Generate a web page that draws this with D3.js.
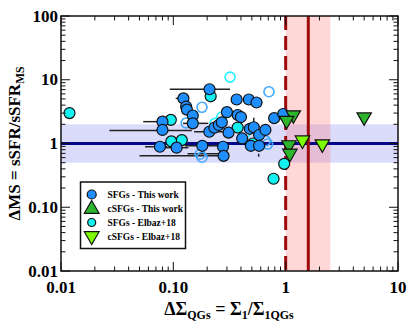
<!DOCTYPE html>
<html>
<head>
<meta charset="utf-8">
<script src="https://cdn.jsdelivr.net/npm/d3@7"></script>
<style>
  body { margin: 0; background: #fff; }
  text { font-family: "Liberation Serif", "Times New Roman", serif; font-weight: bold; }
</style>
</head>
<body>
<div id="chart"></div>
<script>
// data: [deltaSigma, deltaMS]
var sfgsThisWork = [
  [0.21, 7.1], [0.123, 5.1], [0.130, 3.8], [0.132, 3.4], [0.149, 2.75], [0.149, 2.07],
  [0.080, 2.2], [0.080, 1.63], [0.076, 0.89], [0.107, 0.86], [0.181, 0.92], [0.277, 0.89],
  [0.28, 0.64], [0.209, 1.53], [0.232, 1.77], [0.254, 1.95], [0.27, 2.15], [0.30, 3.1],
  [0.31, 1.48], [0.366, 4.9], [0.47, 4.9], [0.55, 4.4], [0.374, 2.8], [0.40, 2.6],
  [0.41, 1.2], [0.48, 1.7], [0.52, 1.8], [0.58, 1.36], [0.66, 1.63], [0.49, 0.92],
  [0.58, 0.92], [0.79, 2.5], [0.95, 2.9]
]
var sfgsElbaz = [
  [0.0119, 3.0], [0.215, 5.5], [0.095, 2.35], [0.096, 1.08], [0.119, 1.13],
  [0.374, 1.78], [0.51, 1.0], [0.78, 0.28], [0.97, 0.48]
]
var openCyan = [[0.32, 11], [0.235, 2.07], [0.27, 2.6], [0.435, 1.48]]
var openBlue = [[0.71, 6.5], [0.18, 3.7], [0.13, 2.1], [0.66, 1.1], [0.69, 0.98], [0.173, 0.68], [0.18, 0.61]]
var csfgsThisWork = [[1.17, 2.8], [1.02, 2.3], [5.0, 2.6], [1.07, 0.95], [1.09, 0.70]]
var csfgsElbaz = [[1.41, 1.13], [2.12, 0.98]]

// horizontal error bars: [deltaMS, xlo, xhi]
var xErrors = [
  [7.1, 0.093, 0.32], [5.1, 0.105, 0.137], [2.2, 0.054, 0.093], [1.6, 0.027, 0.146],
  [1.53, 0.153, 0.30], [0.89, 0.056, 0.088], [0.86, 0.081, 0.136], [0.92, 0.127, 0.25],
  [0.69, 0.134, 0.25], [0.64, 0.050, 0.30], [2.07, 0.122, 0.205], [4.4, 0.50, 0.62]
]
// vertical error bars: [deltaSigma, ylo, yhi]
var yErrors = [[0.52, 1.73, 2.54], [0.575, 0.62, 0.69]]

var msBand = [0.5, 2]
var msLine = 1
var sigmaThreshold = 1
var sigmaMedian = 1.59
var sigmaBand = [1, 2.5]

var xTicks = [0.01, 0.1, 1, 10]
var xTickLabels = ['0.01', '0.10', '1', '10']
var yTicks = [0.01, 0.1, 1, 10, 100]
var yTickLabels = ['0.01', '0.10', '1', '10', '100']

var legendItems = [
  { label: 'SFGs - This work', type: 'circle', color: '#1f8fff', r: 4.5 },
  { label: 'cSFGs - This work', type: 'up', color: '#2db52d' },
  { label: 'SFGs - Elbaz+18', type: 'circle', color: '#14f0f0', r: 4 },
  { label: 'cSFGs - Elbaz+18', type: 'down', color: '#7cfc00' }
]

var W = 415, H = 332
var pL = 61, pR = 398, pT = 16, pB = 271

var svg = d3.select('#chart').append('svg')
  .attr('width', W).attr('height', H)

var x = d3.scaleLog().domain([0.01, 10]).range([pL, pR])
var y = d3.scaleLog().domain([0.01, 100]).range([pB, pT])

// bands
svg.append('rect')
  .attr('x', pL).attr('width', pR - pL)
  .attr('y', y(msBand[1])).attr('height', y(msBand[0]) - y(msBand[1]))
  .attr('fill', 'rgba(110,110,240,0.25)')
svg.append('rect')
  .attr('x', x(sigmaBand[0])).attr('width', x(sigmaBand[1]) - x(sigmaBand[0]))
  .attr('y', pT).attr('height', pB - pT)
  .attr('fill', 'rgba(255,110,110,0.28)')

// main sequence line
svg.append('line')
  .attr('x1', pL).attr('x2', pR)
  .attr('y1', y(msLine)).attr('y2', y(msLine))
  .attr('stroke', '#06068a').attr('stroke-width', 3)

// red lines
svg.append('line')
  .attr('x1', x(sigmaThreshold)).attr('x2', x(sigmaThreshold))
  .attr('y1', pT).attr('y2', pB)
  .attr('stroke', '#9b0b0b').attr('stroke-width', 3)
  .attr('stroke-dasharray', '14,6')
svg.append('line')
  .attr('x1', x(sigmaMedian)).attr('x2', x(sigmaMedian))
  .attr('y1', pT).attr('y2', pB)
  .attr('stroke', '#9b0b0b').attr('stroke-width', 3)

// error bars
svg.selectAll('.xerr').data(xErrors).enter().append('line')
  .attr('class', 'xerr')
  .attr('x1', d => x(d[1])).attr('x2', d => x(d[2]))
  .attr('y1', d => y(d[0])).attr('y2', d => y(d[0]))
  .attr('stroke', '#222').attr('stroke-width', 1.5)
svg.selectAll('.yerr').data(yErrors).enter().append('line')
  .attr('class', 'yerr')
  .attr('x1', d => x(d[0])).attr('x2', d => x(d[0]))
  .attr('y1', d => y(d[1])).attr('y2', d => y(d[2]))
  .attr('stroke', '#222').attr('stroke-width', 1.5)

// open circles
function openCircles(data, color) {
  svg.append('g').selectAll('circle').data(data).enter().append('circle')
    .attr('cx', d => x(d[0])).attr('cy', d => y(d[1])).attr('r', 5)
    .attr('fill', 'none').attr('stroke', color).attr('stroke-width', 1.6)
}
openCircles(openCyan, '#22f2ff')
openCircles(openBlue, '#44aaff')

function filledCircles(data, color) {
  svg.append('g').selectAll('circle').data(data).enter().append('circle')
    .attr('cx', d => x(d[0])).attr('cy', d => y(d[1])).attr('r', 5.5)
    .attr('fill', color).attr('stroke', '#111').attr('stroke-width', 1.2)
}
filledCircles(sfgsElbaz, '#14f0f0')
filledCircles(sfgsThisWork, '#1f8fff')

var tri = d3.symbol().type(d3.symbolTriangle).size(90)
function triangles(data, color) {
  svg.append('g').selectAll('path').data(data).enter().append('path')
    .attr('d', tri)
    .attr('transform', d => 'translate(' + x(d[0]) + ',' + y(d[1]) + ') rotate(180)')
    .attr('fill', color).attr('stroke', '#111').attr('stroke-width', 1.2)
}
triangles(csfgsThisWork, '#2db52d')
triangles(csfgsElbaz, '#7cfc00')

// frame + ticks on all sides (inward)
svg.append('rect')
  .attr('x', pL).attr('y', pT).attr('width', pR - pL).attr('height', pB - pT)
  .attr('fill', 'none').attr('stroke', '#111').attr('stroke-width', 1.5)

function logTicks(lo, hi) {
  var out = []
  for (var e = lo; e < hi; e++) {
    for (var m = 1; m < 10; m++) out.push({ v: m * Math.pow(10, e), major: m === 1 })
  }
  out.push({ v: Math.pow(10, hi), major: true })
  return out
}
var tickG = svg.append('g').attr('stroke', '#111').attr('stroke-width', 1)
logTicks(-2, 1).forEach(function(t) {
  var len = t.major ? 9 : 4.5
  tickG.append('line').attr('x1', x(t.v)).attr('x2', x(t.v)).attr('y1', pB).attr('y2', pB - len)
  tickG.append('line').attr('x1', x(t.v)).attr('x2', x(t.v)).attr('y1', pT).attr('y2', pT + len)
})
logTicks(-2, 2).forEach(function(t) {
  var len = t.major ? 9 : 4.5
  tickG.append('line').attr('y1', y(t.v)).attr('y2', y(t.v)).attr('x1', pL).attr('x2', pL + len)
  tickG.append('line').attr('y1', y(t.v)).attr('y2', y(t.v)).attr('x1', pR).attr('x2', pR - len)
})

// tick labels
svg.selectAll('.xlab').data(xTicks).enter().append('text')
  .attr('class', 'xlab')
  .attr('x', d => x(d)).attr('y', pB + 22)
  .attr('text-anchor', 'middle').attr('font-size', 17)
  .text((d, i) => xTickLabels[i])
svg.selectAll('.ylab').data(yTicks).enter().append('text')
  .attr('class', 'ylab')
  .attr('x', pL - 3).attr('y', d => y(d) + 5.5)
  .attr('text-anchor', 'end').attr('font-size', 17)
  .text((d, i) => yTickLabels[i])

// axis titles
var xt = svg.append('text')
  .attr('x', 229).attr('y', 315)
  .attr('text-anchor', 'middle').attr('font-size', 18)
xt.append('tspan').text('ΔΣ')
xt.append('tspan').attr('font-size', 12).attr('dy', 4).text('QGs')
xt.append('tspan').attr('dy', -4).text(' = Σ')
xt.append('tspan').attr('font-size', 12).attr('dy', 4).text('1')
xt.append('tspan').attr('dy', -4).text('/Σ')
xt.append('tspan').attr('font-size', 12).attr('dy', 4).text('1QGs')

var yt = svg.append('text')
  .attr('transform', 'translate(20,' + ((pT + pB) / 2) + ') rotate(-90)')
  .attr('text-anchor', 'middle').attr('font-size', 17)
yt.append('tspan').text('ΔMS = sSFR/sSFR')
yt.append('tspan').attr('font-size', 11.5).attr('dy', 4).text('MS')

// legend
var lg = svg.append('g')
lg.append('rect')
  .attr('x', 80.5).attr('y', 182).attr('width', 105).attr('height', 66.5)
  .attr('fill', '#fff').attr('stroke', '#111').attr('stroke-width', 1.5)
var bigTri = d3.symbol().type(d3.symbolTriangle).size(95)
legendItems.forEach(function(it, i) {
  var cy = 194.5 + i * 14
  if (it.type === 'circle') {
    lg.append('circle').attr('cx', 91.7).attr('cy', cy).attr('r', it.r)
      .attr('fill', it.color).attr('stroke', '#111').attr('stroke-width', 1.2)
  } else {
    lg.append('path').attr('d', bigTri)
      .attr('transform', 'translate(91.7,' + (cy + (it.type === 'up' ? 0.5 : -0.5)) + ')' + (it.type === 'down' ? ' rotate(180)' : ''))
      .attr('fill', it.color).attr('stroke', '#111').attr('stroke-width', 1.2)
  }
  lg.append('text').attr('x', 107.5).attr('y', cy + 3.5)
    .attr('font-size', 9.5).text(it.label)
})
</script>
</body>
</html>
